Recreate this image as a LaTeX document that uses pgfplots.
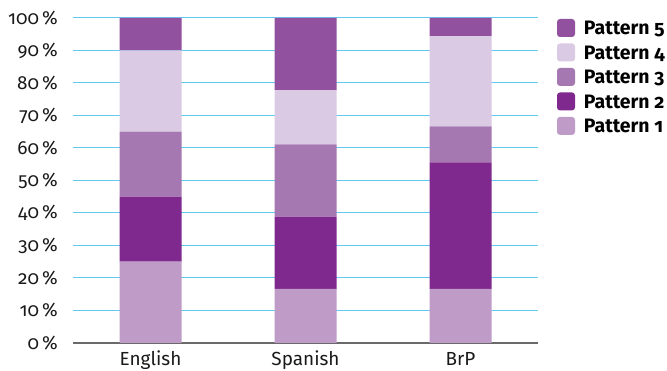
\documentclass[border=0pt]{standalone}
\usepackage{pgfplots}
\pgfplotsset{compat=1.18}
\usepackage{pgfplotstable}
\usepackage{fontspec}
\setmainfont{Fira Sans}[Numbers=OldStyle]

\definecolor{pOne}{HTML}{BF9BC8}
\definecolor{pTwo}{HTML}{7F288D}
\definecolor{pThree}{HTML}{A678B2}
\definecolor{pFour}{HTML}{DACAE3}
\definecolor{pFive}{HTML}{92519F}
\definecolor{gridblue}{HTML}{62C8F0}
\definecolor{axisgray}{HTML}{6A6A6A}

% share of each pattern (%) per language: 0 English, 1 Spanish, 2 BrP
\pgfplotstableread{
idx p1    p2    p3    p4    p5
0   25    20    20    25    10
1   16.67 22.22 22.22 16.67 22.22
2   16.67 38.89 11.11 27.78 5.56
}\patterns

\begin{document}
\begin{tikzpicture}
\useasboundingbox (0,0) rectangle (667bp,371bp);
\begin{axis}[
  at={(73bp,28bp)}, anchor=south west,
  scale only axis, width=465bp, height=325bp,
  ybar stacked, bar width=62bp,
  xmin=-0.5, xmax=2.5, ymin=0, ymax=100,
  xtick={0,1,2}, xticklabels={English,Spanish,BrP},
  ytick={0,10,...,100},
  yticklabel={\pgfmathprintnumber{\tick}\,\%},
  /pgf/number format/assume math mode=true,
  separate axis lines,
  axis x line*=bottom, axis y line*=left,
  y axis line style={draw=none},
  x axis line style={color=axisgray, line width=1.2bp},
  major tick length=0pt,
  ymajorgrids,
  grid style={color=gridblue, line width=1bp},
  tick label style={font=\fontsize{19}{19}\selectfont, color=black!90},
  xticklabel style={anchor=base, yshift=-22bp},
  yticklabel style={anchor=east, inner xsep=0pt, xshift=-15bp},
  every axis plot/.append style={draw=none},
  reverse legend,
  legend cell align=left,
  legend image code/.code={\fill[#1, draw=none, rounded corners=3bp] (0bp,-2bp) rectangle (18bp,16bp);},
  legend style={at={(1,1)}, anchor=north west, xshift=19bp, yshift=1bp,
    draw=none, fill=none, inner sep=0pt, outer sep=0pt,
    row sep=3bp, column sep=7bp,
    font=\bfseries\fontsize{19.5}{19.5}\selectfont,
    cells={anchor=base west, inner sep=0pt, text height=16bp, text depth=2bp}},
]
\addplot[fill=pOne]   table[x=idx, y=p1] {\patterns};
\addplot[fill=pTwo]   table[x=idx, y=p2] {\patterns};
\addplot[fill=pThree] table[x=idx, y=p3] {\patterns};
\addplot[fill=pFour]  table[x=idx, y=p4] {\patterns};
\addplot[fill=pFive]  table[x=idx, y=p5] {\patterns};
\legend{Pattern 1, Pattern 2, Pattern 3, Pattern 4, Pattern 5}
\end{axis}
\end{tikzpicture}
\end{document}
